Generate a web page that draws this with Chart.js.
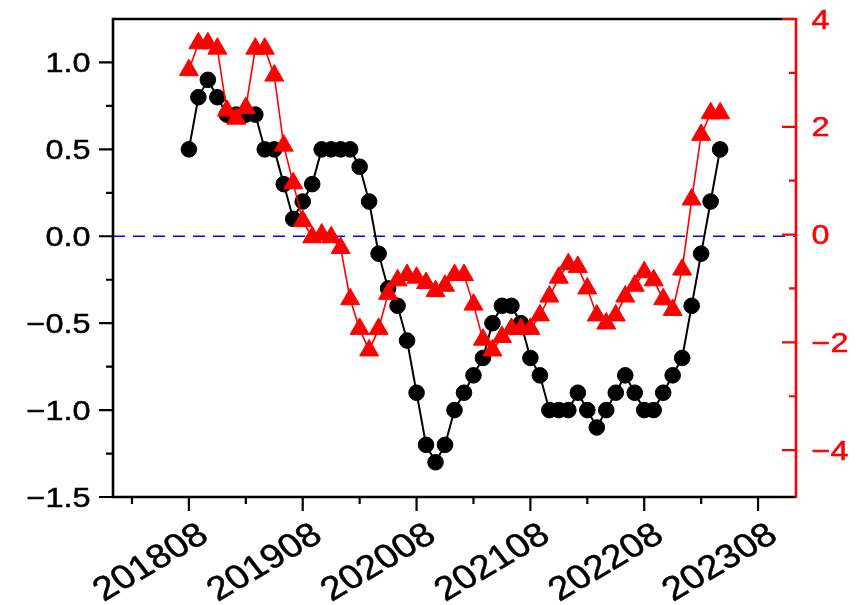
<!DOCTYPE html>
<html><head><meta charset="utf-8">
<script src="https://cdn.jsdelivr.net/npm/chart.js@4.4.1/dist/chart.umd.min.js"></script>
<style>html,body{margin:0;padding:0;background:#fff;}canvas{display:block;}</style>
</head><body>
<canvas id="c" width="867" height="605"></canvas>
<script>
// ---- data ----
const months = ['201808','201809','201810','201811','201812','201901','201902','201903','201904','201905','201906','201907',
 '201908','201909','201910','201911','201912','202001','202002','202003','202004','202005','202006','202007',
 '202008','202009','202010','202011','202012','202101','202102','202103','202104','202105','202106','202107',
 '202108','202109','202110','202111','202112','202201','202202','202203','202204','202205','202206','202207',
 '202208','202209','202210','202211','202212','202301','202302','202303','202304'];
const leftSeries = [0.5,0.8,0.9,0.8,0.7,0.7,0.7,0.7,0.5,0.5,0.3,0.1,
 0.2,0.3,0.5,0.5,0.5,0.5,0.4,0.2,-0.1,-0.3,-0.4,-0.6,
 -0.9,-1.2,-1.3,-1.2,-1.0,-0.9,-0.8,-0.7,-0.5,-0.4,-0.4,-0.5,
 -0.7,-0.8,-1.0,-1.0,-1.0,-0.9,-1.0,-1.1,-1.0,-0.9,-0.8,-0.9,
 -1.0,-1.0,-0.9,-0.8,-0.7,-0.4,-0.1,0.2,0.5];
const rightSeries = [3.05,3.55,3.55,3.45,2.3,2.15,2.35,3.45,3.45,2.95,1.65,0.95,
 0.25,-0.05,0.0,-0.05,-0.25,-1.2,-1.75,-2.15,-1.75,-1.1,-0.85,-0.75,
 -0.8,-0.9,-1.05,-0.95,-0.75,-0.75,-1.3,-1.95,-2.15,-1.9,-1.75,-1.75,
 -1.75,-1.5,-1.15,-0.8,-0.55,-0.6,-1.0,-1.5,-1.65,-1.5,-1.15,-0.95,
 -0.7,-0.85,-1.2,-1.4,-0.65,0.65,1.85,2.25,2.25];
const xTickLabels = ['201808','201908','202008','202108','202208','202308'];
const xMinorTicks = ['201802','201902','202002','202102','202202','202302'];
const xStart = '201712', xEnd = '202312';
const leftTicks = [-1.5,-1.0,-0.5,0.0,0.5,1.0];
const leftMinorTicks = [-1.25,-0.75,-0.25,0.25,0.75];
const rightTicks = [-4,-2,0,2,4];
const rightMinorTicks = [-3,-1,1,3];
const leftRange = [-1.5, 1.25];
const rightRange = [-4.87, 4];

function mIdx(s){ return (parseInt(s.slice(0,4),10)-2017)*12 + parseInt(s.slice(4,6),10) - 12; }
const MINUS = '\u2212';
const FONT = "'Liberation Sans', Arial, sans-serif";
const fmtLeft = v => (v < 0 ? MINUS : '') + Math.abs(v).toFixed(1);
const fmtRight = v => (v < 0 ? MINUS : '') + Math.abs(v);

function drawText(ctx, text, x, y, align, angleDeg, sx, size, color){
  ctx.save();
  ctx.translate(x, y);
  ctx.scale(sx, 1);
  ctx.rotate(-angleDeg * Math.PI / 180);
  ctx.font = size + 'px ' + FONT;
  ctx.fillStyle = color;
  ctx.strokeStyle = color;
  ctx.lineWidth = 0.5;
  ctx.textAlign = align;
  ctx.textBaseline = 'alphabetic';
  ctx.fillText(text, 0, 0);
  ctx.strokeText(text, 0, 0);
  ctx.restore();
}

const framePlugin = {
  id: 'frame',
  afterDraw(chart){
    const {ctx, chartArea:a, scales} = chart;
    ctx.save();
    ctx.lineCap = 'butt';
    ctx.strokeStyle = '#000'; ctx.lineWidth = 2.2;
    ctx.beginPath();
    leftTicks.forEach(v => { const y = scales.y.getPixelForValue(v); ctx.moveTo(a.left-14, y); ctx.lineTo(a.left, y); });
    leftMinorTicks.forEach(v => { const y = scales.y.getPixelForValue(v); ctx.moveTo(a.left-7, y); ctx.lineTo(a.left, y); });
    xTickLabels.forEach(l => { const x = scales.x.getPixelForValue(mIdx(l)); ctx.moveTo(x, a.bottom); ctx.lineTo(x, a.bottom+14); });
    xMinorTicks.forEach(l => { const x = scales.x.getPixelForValue(mIdx(l)); ctx.moveTo(x, a.bottom); ctx.lineTo(x, a.bottom+7); });
    ctx.stroke();
    ctx.lineWidth = 2.6;
    ctx.beginPath();
    ctx.moveTo(a.right, a.top); ctx.lineTo(a.left, a.top); ctx.lineTo(a.left, a.bottom); ctx.lineTo(a.right, a.bottom);
    ctx.stroke();
    ctx.strokeStyle = '#ff0000';
    ctx.beginPath(); ctx.moveTo(a.right, a.top-1); ctx.lineTo(a.right, a.bottom+1); ctx.stroke();
    ctx.lineWidth = 2.2;
    ctx.beginPath();
    rightTicks.forEach(v => { const y = scales.y2.getPixelForValue(v); ctx.moveTo(a.right-14, y); ctx.lineTo(a.right, y); });
    rightMinorTicks.forEach(v => { const y = scales.y2.getPixelForValue(v); ctx.moveTo(a.right-7, y); ctx.lineTo(a.right, y); });
    ctx.stroke();
    ctx.restore();
    // tick labels (positions from the scales)
    leftTicks.forEach(v => drawText(ctx, fmtLeft(v), a.left - 22.5, scales.y.getPixelForValue(v) + 9.5, 'right', 0, 1.2, 27, '#000'));
    rightTicks.forEach(v => drawText(ctx, fmtRight(v), a.right + 15.5, scales.y2.getPixelForValue(v) + 9.5, 'left', 0, 1.2, 27, '#ff0000'));
    xTickLabels.forEach(l => drawText(ctx, l, scales.x.getPixelForValue(mIdx(l)) + 21.5, a.bottom + 42.5, 'right', 34, 1.15, 33.5, '#000'));
  }
};

new Chart(document.getElementById('c'), {
  type: 'line',
  data: {
    datasets: [
      { label: 'right', yAxisID: 'y2', order: 0,
        data: months.map((m,i) => ({x: mIdx(m), y: rightSeries[i]})),
        borderColor: '#ff0000', backgroundColor: '#ff0000', borderWidth: 1.6,
        pointStyle: 'triangle', pointRadius: 11, pointBorderWidth: 1, tension: 0 },
      { label: 'left', yAxisID: 'y', order: 1,
        data: months.map((m,i) => ({x: mIdx(m), y: leftSeries[i]})),
        borderColor: '#000000', backgroundColor: '#000000', borderWidth: 2,
        pointStyle: 'circle', pointRadius: 7.8, pointBorderWidth: 1, tension: 0 },
      { label: 'zero', yAxisID: 'y', order: 2,
        data: [{x: mIdx(xStart), y: 0}, {x: mIdx(xEnd), y: 0}],
        borderColor: '#0000ff', borderWidth: 1.6, borderDash: [12, 8], pointRadius: 0 }
    ]
  },
  options: {
    responsive: false, animation: false, devicePixelRatio: 1, events: [],
    layout: { padding: { top: 19, left: 0, right: 0, bottom: 0 } },
    plugins: { legend: { display: false }, tooltip: { enabled: false }, title: { display: false } },
    scales: {
      x: {
        type: 'linear', position: 'bottom', min: mIdx(xStart), max: mIdx(xEnd),
        grid: { display: false, drawTicks: false }, border: { display: false },
        afterBuildTicks: s => { s.ticks = xTickLabels.map(l => ({value: mIdx(l)})); },
        afterFit: s => { s.height = 108; },
        ticks: { display: false }
      },
      y: {
        type: 'linear', position: 'left', min: leftRange[0], max: leftRange[1],
        grid: { display: false, drawTicks: false }, border: { display: false },
        afterBuildTicks: s => { s.ticks = leftTicks.map(v => ({value: v})); },
        afterFit: s => { s.width = 113; },
        ticks: { display: false }
      },
      y2: {
        type: 'linear', position: 'right', min: rightRange[0], max: rightRange[1],
        grid: { display: false, drawTicks: false }, border: { display: false },
        afterBuildTicks: s => { s.ticks = rightTicks.map(v => ({value: v})); },
        afterFit: s => { s.width = 71; },
        ticks: { display: false }
      }
    }
  },
  plugins: [framePlugin]
});
</script>
</body></html>
